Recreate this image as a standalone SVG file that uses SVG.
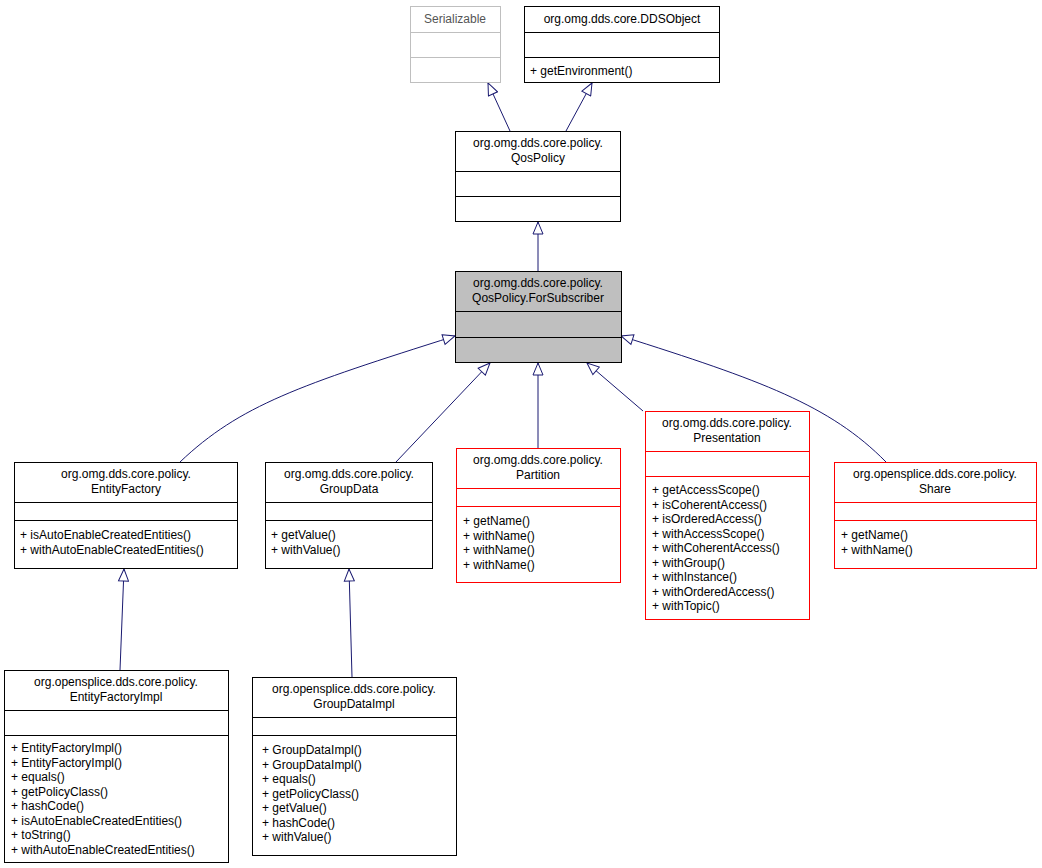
<svg xmlns="http://www.w3.org/2000/svg" width="1042" height="868" viewBox="0 0 1042 868">
<style>
text{font-family:"Liberation Sans",Arial,sans-serif;font-size:12px;fill:#000}
.c{text-anchor:middle}
.b{fill:#fff;stroke:#000;stroke-width:1}
.g{fill:#fff;stroke:#bfbfbf}
.r{fill:#fff;stroke:#ff0000}
.e{fill:none;stroke:#191970;stroke-width:1}
</style>
<defs><marker id="a" markerWidth="14" markerHeight="12" refX="13" refY="6" orient="auto" markerUnits="userSpaceOnUse"><path d="M1,1 L13,6 L1,11 Z" fill="#fff" stroke="#191970"/></marker></defs>
<g id="connectors">
<path class="e" marker-end="url(#a)" d="M510,131 L488,83"/>
<path class="e" marker-end="url(#a)" d="M566,131 L592,83"/>
<path class="e" marker-end="url(#a)" d="M538,271 L538,222"/>
<path class="e" marker-end="url(#a)" d="M180,462 C240,405 300,385 455,336"/>
<path class="e" marker-end="url(#a)" d="M396,462 L490,363"/>
<path class="e" marker-end="url(#a)" d="M538,448 L538,363"/>
<path class="e" marker-end="url(#a)" d="M643,411 L587,363"/>
<path class="e" marker-end="url(#a)" d="M886,462 C830,405 760,380 621,336"/>
<path class="e" marker-end="url(#a)" d="M120,670 L124,569"/>
<path class="e" marker-end="url(#a)" d="M352,677 L349,569"/>
</g>
<g id="Serializable"><rect class="g" x="410.5" y="6.5" width="90" height="76"/><path class="g" d="M410.5,32.5H500.5M410.5,57.5H500.5"/><text class="c" x="455" y="23" fill="#808080" style="fill:#555">Serializable</text></g>
<g id="DDSObject"><rect class="b" x="524.5" y="6.5" width="195" height="76"/><path class="b" d="M524.5,32.5H719.5M524.5,57.5H719.5"/><text class="c" x="622" y="23">org.omg.dds.core.DDSObject</text><text x="530" y="75">+ getEnvironment()</text></g>
<g id="QosPolicy"><rect class="b" x="455.5" y="131.5" width="165" height="90"/><path class="b" d="M455.5,171.5H620.5M455.5,196.5H620.5"/><text class="c" x="538" y="147">org.omg.dds.core.policy.</text><text class="c" x="538" y="162">QosPolicy</text></g>
<g id="ForSubscriber"><rect x="455.5" y="271.5" width="166" height="91" fill="#bfbfbf" stroke="#000"/><path stroke="#000" d="M455.5,311.5H621.5M455.5,337.5H621.5"/><text class="c" x="538" y="287">org.omg.dds.core.policy.</text><text class="c" x="538" y="302">QosPolicy.ForSubscriber</text></g>
<g id="EntityFactory"><rect class="b" x="14.5" y="462.5" width="223" height="106"/><path class="b" d="M14.5,502.5H237.5M14.5,520.5H237.5"/><text class="c" x="126" y="478">org.omg.dds.core.policy.</text><text class="c" x="126" y="493">EntityFactory</text><text x="20" y="539">+ isAutoEnableCreatedEntities()</text><text x="20" y="554">+ withAutoEnableCreatedEntities()</text></g>
<g id="GroupData"><rect class="b" x="265.5" y="462.5" width="167" height="106"/><path class="b" d="M265.5,502.5H432.5M265.5,520.5H432.5"/><text class="c" x="349" y="478">org.omg.dds.core.policy.</text><text class="c" x="349" y="493">GroupData</text><text x="271" y="539">+ getValue()</text><text x="271" y="554">+ withValue()</text></g>
<g id="Partition"><rect class="r" x="456.5" y="448.5" width="164" height="134"/><path class="r" d="M456.5,488.5H620.5M456.5,506.5H620.5"/><text class="c" x="538" y="464">org.omg.dds.core.policy.</text><text class="c" x="538" y="479">Partition</text><text x="463" y="525">+ getName()</text><text x="463" y="539.5">+ withName()</text><text x="463" y="554">+ withName()</text><text x="463" y="568.5">+ withName()</text></g>
<g id="Presentation"><rect class="r" x="645.5" y="411.5" width="164" height="208"/><path class="r" d="M645.5,451.5H809.5M645.5,476.5H809.5"/><text class="c" x="727" y="427">org.omg.dds.core.policy.</text><text class="c" x="727" y="442">Presentation</text><text x="652" y="494">+ getAccessScope()</text><text x="652" y="508.5">+ isCoherentAccess()</text><text x="652" y="523">+ isOrderedAccess()</text><text x="652" y="537.5">+ withAccessScope()</text><text x="652" y="552">+ withCoherentAccess()</text><text x="652" y="566.5">+ withGroup()</text><text x="652" y="581">+ withInstance()</text><text x="652" y="595.5">+ withOrderedAccess()</text><text x="652" y="610">+ withTopic()</text></g>
<g id="Share"><rect class="r" x="834.5" y="462.5" width="202" height="106"/><path class="r" d="M834.5,502.5H1036.5M834.5,520.5H1036.5"/><text class="c" x="935" y="478">org.opensplice.dds.core.policy.</text><text class="c" x="935" y="493">Share</text><text x="841" y="539">+ getName()</text><text x="841" y="554">+ withName()</text></g>
<g id="EntityFactoryImpl"><rect class="b" x="4.5" y="670.5" width="224" height="192"/><path class="b" d="M4.5,710.5H228.5M4.5,735.5H228.5"/><text class="c" x="116" y="686">org.opensplice.dds.core.policy.</text><text class="c" x="116" y="701">EntityFactoryImpl</text><text x="11" y="752">+ EntityFactoryImpl()</text><text x="11" y="766.5">+ EntityFactoryImpl()</text><text x="11" y="781">+ equals()</text><text x="11" y="795.5">+ getPolicyClass()</text><text x="11" y="810">+ hashCode()</text><text x="11" y="824.5">+ isAutoEnableCreatedEntities()</text><text x="11" y="839">+ toString()</text><text x="11" y="853.5">+ withAutoEnableCreatedEntities()</text></g>
<g id="GroupDataImpl"><rect class="b" x="252.5" y="677.5" width="204" height="178"/><path class="b" d="M252.5,717.5H456.5M252.5,735.5H456.5"/><text class="c" x="354" y="693">org.opensplice.dds.core.policy.</text><text class="c" x="354" y="708">GroupDataImpl</text><text x="262" y="754">+ GroupDataImpl()</text><text x="262" y="768.5">+ GroupDataImpl()</text><text x="262" y="783">+ equals()</text><text x="262" y="797.5">+ getPolicyClass()</text><text x="262" y="812">+ getValue()</text><text x="262" y="826.5">+ hashCode()</text><text x="262" y="841">+ withValue()</text></g>
</svg>
